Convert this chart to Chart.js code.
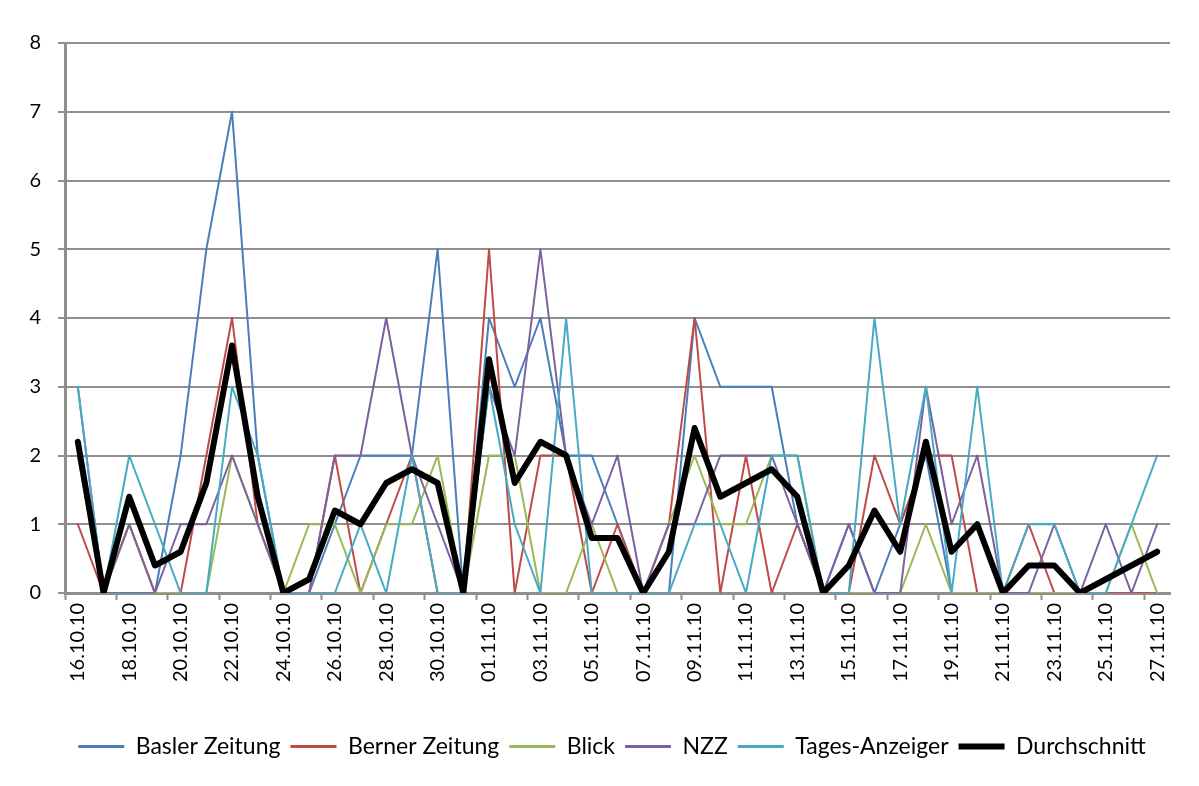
<!DOCTYPE html>
<html><head><meta charset="utf-8">
<script src="https://cdn.jsdelivr.net/npm/chart.js@4.4.1/dist/chart.umd.min.js"></script>
<style>html,body{margin:0;padding:0;background:#fff}#wrap{position:absolute;left:0;top:0;width:1199px;height:786px}</style>
</head><body><div id="wrap"><canvas id="c" width="1199" height="786"></canvas></div>
<script>
const categories = ['16.10.10','17.10.10','18.10.10','19.10.10','20.10.10','21.10.10','22.10.10','23.10.10','24.10.10','25.10.10','26.10.10','27.10.10','28.10.10','29.10.10','30.10.10','31.10.10',
'01.11.10','02.11.10','03.11.10','04.11.10','05.11.10','06.11.10','07.11.10','08.11.10','09.11.10','10.11.10','11.11.10','12.11.10','13.11.10','14.11.10','15.11.10','16.11.10','17.11.10','18.11.10','19.11.10','20.11.10','21.11.10','22.11.10','23.11.10','24.11.10','25.11.10','26.11.10','27.11.10'];
const baslerZeitung = [2,0,0,0,2,5,7,2,0,0,1,2,2,2,5,0,4,3,4,2,2,1,0,0,4,3,3,3,1,0,1,0,1,2,0,0,0,0,0,0,0,0,0];
const bernerZeitung = [1,0,1,0,0,2,4,1,0,0,2,0,1,2,0,0,5,0,2,2,0,1,0,1,4,0,2,0,1,0,0,2,1,2,2,0,0,1,0,0,0,0,0];
const blick         = [2,0,1,0,0,0,2,1,0,1,1,0,1,1,2,0,2,2,0,0,1,0,0,1,2,1,1,2,2,0,0,0,0,1,0,0,0,0,0,0,0,1,0];
const nzz           = [3,0,1,0,1,1,2,1,0,0,2,2,4,2,1,0,3,2,5,2,1,2,0,1,1,2,2,2,1,0,1,0,0,3,1,2,0,0,1,0,1,0,1];
const tagesAnzeiger = [3,0,2,1,0,0,3,2,0,0,0,1,0,2,0,0,3,1,0,4,0,0,0,0,1,1,0,2,2,0,0,4,1,3,0,3,0,1,1,0,0,1,2];
const durchschnitt  = [2.2,0,1.4,0.4,0.6,1.6,3.6,1.4,0,0.2,1.2,1.0,1.6,1.8,1.6,0,3.4,1.6,2.2,2.0,0.8,0.8,0,0.6,2.4,1.4,1.6,1.8,1.4,0,0.4,1.2,0.6,2.2,0.6,1.0,0,0.4,0.4,0,0.2,0.4,0.6];
const yTickValues = [0,1,2,3,4,5,6,7,8];

const GRID = '#8f8f8f';
const FONT = 'Lato, "Open Sans", sans-serif';
const LEGEND_LEFT = 54;

function ds(label, data, color, width, order) {
  return { label, data, borderColor: color, backgroundColor: color, borderWidth: width,
    pointRadius: 0, pointHoverRadius: 0, tension: 0, fill: false,
    borderJoinStyle: 'round', borderCapStyle: 'round', order };
}

const legendShift = {
  id: 'legendShift',
  afterLayout(chart) {
    const l = chart.legend;
    if (l) { l.left = LEGEND_LEFT; l.width = l.right - l.left; }
  }
};

new Chart(document.getElementById('c'), {
  type: 'line',
  plugins: [legendShift],
  data: {
    labels: categories,
    datasets: [
      ds('Basler Zeitung', baslerZeitung, '#4a7ebb', 2, 5),
      ds('Berner Zeitung', bernerZeitung, '#be4b48', 2, 4),
      ds('Blick', blick, '#98b954', 2, 3),
      ds('NZZ', nzz, '#7d60a0', 2, 2),
      ds('Tages-Anzeiger', tagesAnzeiger, '#46aac5', 2, 1),
      ds('Durchschnitt', durchschnitt, '#000000', 6, 0)
    ]
  },
  options: {
    responsive: false,
    animation: false,
    layout: { padding: { left: 0, right: 29, top: 43, bottom: 18 } },
    plugins: {
      tooltip: { enabled: false },
      legend: {
        position: 'bottom',
        onClick: null,
        labels: {
          usePointStyle: true,
          pointStyleWidth: 46,
          padding: 10,
          color: '#000',
          font: { family: FONT, size: 23 },
          generateLabels: (chart) => chart.data.datasets.map((d, i) => ({
            text: d.label, strokeStyle: d.borderColor, fillStyle: d.borderColor,
            lineWidth: d.borderWidth === 6 ? 6 : 3, pointStyle: 'line', datasetIndex: i, hidden: false,
            fontColor: '#000'
          }))
        }
      }
    },
    scales: {
      x: {
        type: 'category',
        offset: true,
        afterFit: (s) => { s.height = 132; },
        border: { display: true, color: GRID, width: 3 },
        grid: {
          display: true, drawOnChartArea: false, drawTicks: true, offset: true, tickLength: 7, tickWidth: 2,
          tickColor: (ctx) => (ctx.index % 2 === 0 ? GRID : 'rgba(0,0,0,0)')
        },
        ticks: {
          autoSkip: false, minRotation: 90, maxRotation: 90, padding: 3, color: '#000',
          font: { family: FONT, size: 20 },
          callback: function(v, i) { return i % 2 === 0 ? categories[i] : ''; }
        }
      },
      y: {
        min: 0, max: 8,
        afterFit: (s) => { s.width = 65; },
        afterBuildTicks: (s) => { s.ticks = yTickValues.map(v => ({ value: v })); },
        border: { display: true, color: GRID, width: 3 },
        grid: { color: GRID, lineWidth: 2, tickLength: 7, tickWidth: 2, tickColor: GRID },
        ticks: { stepSize: 1, padding: 17, color: '#000', font: { family: FONT, size: 20 } }
      }
    }
  }
});
</script></body></html>
